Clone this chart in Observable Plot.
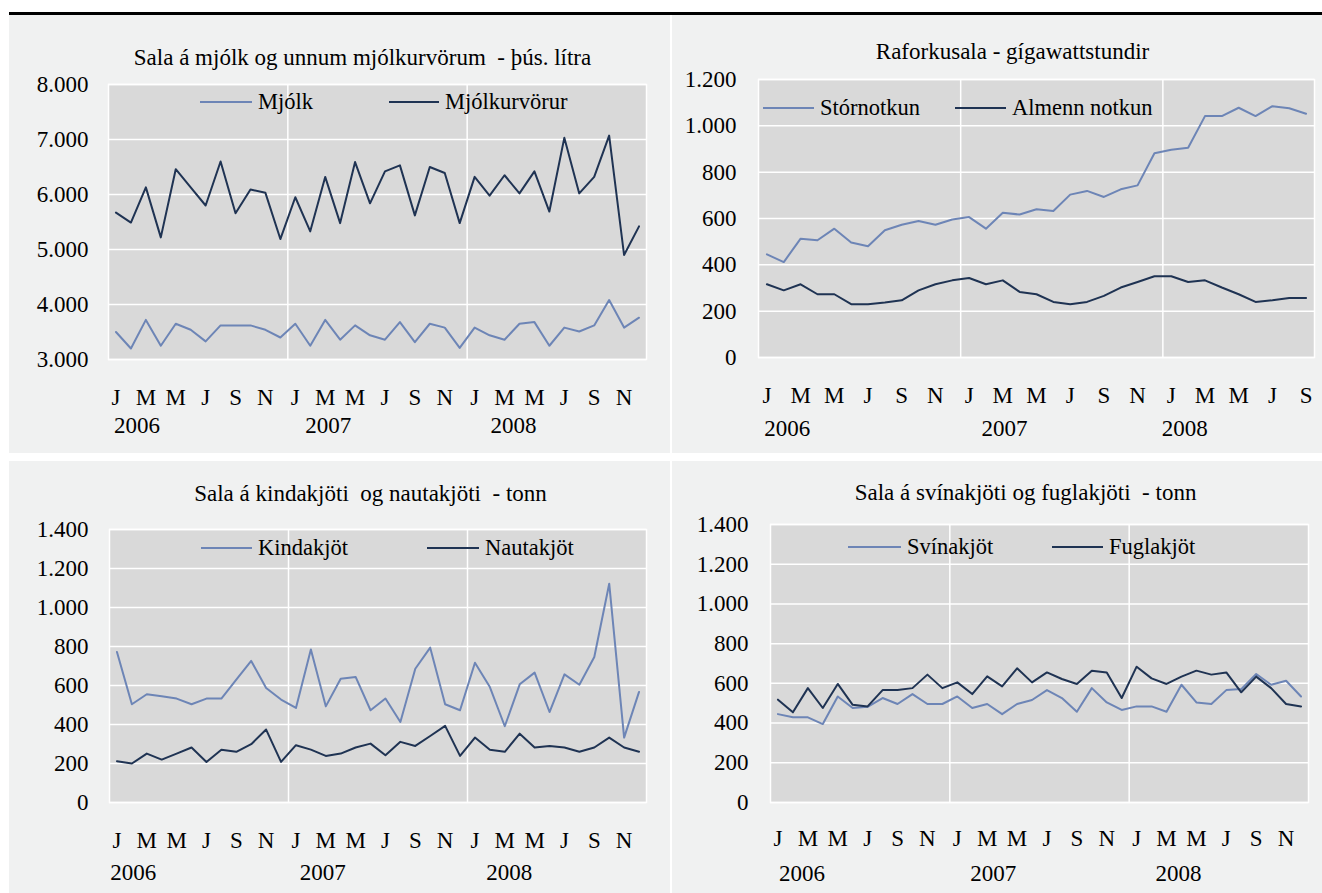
<!DOCTYPE html>
<html>
<head>
<meta charset="utf-8">
<script src="https://cdn.jsdelivr.net/npm/d3@7"></script>
<script src="https://cdn.jsdelivr.net/npm/@observablehq/plot@0.6"></script>
<style>
  html, body { margin: 0; padding: 0; background: #ffffff; }
  #root { position: relative; width: 1322px; height: 893px; overflow: hidden; font-family: "Liberation Serif", "Times New Roman", serif; }
  .bar { position: absolute; background: #000; }
  .panel { position: absolute; background: #f0f1f1; }
  .panel svg { position: absolute; left: 0; top: 0; overflow: visible; }
  .leg { position: absolute; display: flex; align-items: center; font-family: "Liberation Serif", "Times New Roman", serif; font-size: 22.5px; color: #000; white-space: nowrap; line-height: 1; }
  .leg span.sw { display: inline-block; height: 2px; }
</style>
</head>
<body>
<div id="root"></div>
<script>
// ---------- data ----------
const monthLetters = ["J","F","M","A","M","J","J","A","S","O","N","D"];
const years = [2006, 2007, 2008];

const milkTitle = "Sala á mjólk og unnum mjólkurvörum  - þús. lítra";
const milkNames = ["Mjólk", "Mjólkurvörur"];
const milk = [3500,3200,3720,3250,3650,3540,3330,3620,3620,3620,3540,3400,
              3650,3250,3720,3360,3620,3440,3360,3680,3315,3650,3580,3210,
              3580,3440,3360,3650,3680,3250,3580,3510,3620,4080,3580,3760];
const milkProducts = [5670,5490,6130,5220,6460,6130,5800,6600,5660,6090,6030,5190,
                      5950,5330,6320,5480,6590,5840,6420,6530,5620,6500,6390,5480,
                      6320,5980,6350,6020,6420,5690,7030,6020,6320,7070,4900,5420];
const milkTicks = [3000,4000,5000,6000,7000,8000];

const powerTitle = "Raforkusala - gígawattstundir";
const powerNames = ["Stórnotkun", "Almenn notkun"];
const bigUse = [445,412,513,506,556,496,480,549,573,589,573,596,
                606,556,625,617,640,632,703,719,693,726,743,882,
                897,905,1042,1042,1078,1042,1085,1076,1052];
const generalUse = [316,290,316,273,273,230,230,237,247,290,316,333,
                    343,316,333,283,273,240,230,240,266,302,326,351,
                    351,326,333,302,273,240,247,257,257];
const powerTicks = [0,200,400,600,800,1000,1200];

const lambBeefTitle = "Sala á kindakjöti  og nautakjöti  - tonn";
const lambBeefNames = ["Kindakjöt", "Nautakjöt"];
const lamb = [772,504,555,545,533,504,533,533,630,726,587,528,
              485,785,493,635,644,473,533,413,686,794,504,473,
              717,592,391,606,666,464,657,604,746,1122,333,567];
const beef = [212,200,251,220,251,282,208,271,260,299,374,208,
              294,271,239,251,282,302,242,311,290,341,393,239,
              333,271,260,353,282,290,282,260,282,333,282,260];
const meatTicks = [0,200,400,600,800,1000,1200,1400];

const porkPoultryTitle = "Sala á svínakjöti og fuglakjöti  - tonn";
const porkPoultryNames = ["Svínakjöt", "Fuglakjöt"];
const pork = [445,429,429,395,534,476,482,526,496,546,496,496,
              534,476,496,445,496,516,566,526,457,576,504,466,
              484,484,457,593,504,496,566,571,647,593,613,534];
const poultry = [518,454,576,476,597,492,484,566,566,576,644,576,
                 605,546,635,585,676,605,655,622,597,664,655,526,
                 684,625,597,634,664,644,655,555,634,576,496,484];

// ---------- styles ----------
const LIGHT = "#6d85b6";
const DARK = "#1f3353";
const FONT = "Liberation Serif, Times New Roman, serif";
const FS = 23;
const fmt = d3.formatLocale({decimal: ",", thousands: ".", grouping: [3], currency: ["", ""]}).format(",d");

const root = document.getElementById("root");
const bar = document.createElement("div");
bar.className = "bar";
Object.assign(bar.style, {left: "9px", top: "12px", width: "1313px", height: "3px"});
root.appendChild(bar);

function makePanel(cfg) {
  const div = document.createElement("div");
  div.className = "panel";
  Object.assign(div.style, {left: cfg.left + "px", top: cfg.top + "px", width: cfg.width + "px", height: cfg.height + "px"});
  root.appendChild(div);

  const n = cfg.series[0].values.length;
  const rows = [];
  cfg.series.forEach((s, k) => s.values.forEach((v, i) => rows.push({i, v, k})));
  const monthIdx = d3.range(0, n, 2);
  const yearBounds = d3.range(12, n, 12).map(m => m - 0.5);
  const m = cfg.margin;
  const plotL = m.left, plotR = cfg.width - m.right, plotT = m.top;
  const frameCx = (plotL + plotR) / 2;
  const txt = {fontSize: FS, fontFamily: FONT, fill: "#000"};

  const chart = Plot.plot({
    width: cfg.width,
    height: cfg.height,
    marginLeft: m.left, marginRight: m.right, marginTop: m.top, marginBottom: m.bottom,
    style: {background: "transparent", fontFamily: FONT, fontSize: FS + "px", color: "#000", overflow: "visible"},
    x: {type: "linear", domain: [-0.5, n - 0.5], axis: null},
    y: {domain: cfg.yDomain, axis: null},
    marks: [
      Plot.frame({fill: "#d9d9d9", stroke: "#ffffff", strokeWidth: 1.5}),
      Plot.ruleY(cfg.ticks, {stroke: "#ffffff", strokeWidth: 1.5}),
      Plot.ruleX(yearBounds, {stroke: "#ffffff", strokeWidth: 1.5}),
      Plot.line(rows, {x: "i", y: "v", z: "k", stroke: d => cfg.series[d.k].color, strokeWidth: 2}),
      Plot.text(cfg.ticks, {y: d => d, frameAnchor: "left", dx: -cfg.yLabelGap, textAnchor: "end", text: d => fmt(d), ...txt}),
      Plot.text(monthIdx, {x: d => d, frameAnchor: "bottom", dy: cfg.monthDy, lineAnchor: "middle", text: d => monthLetters[d % 12], ...txt}),
      Plot.text(years, {x: (d, j) => j * 12 + cfg.yearOffsets[j], frameAnchor: "bottom", dy: cfg.yearDy, lineAnchor: "middle", text: d => String(d), ...txt}),
      Plot.text([cfg.title], {frameAnchor: "top", dx: cfg.titleX - cfg.left - frameCx, dy: cfg.titleY - cfg.top - plotT, lineAnchor: "middle", text: d => d, ...txt})
    ]
  });
  div.appendChild(chart);

  // legend (inside plot area)
  cfg.series.forEach((s, k) => {
    const L = cfg.legend[k];
    const el = document.createElement("div");
    el.className = "leg";
    el.style.left = (L.x - cfg.left) + "px";
    el.style.top = (cfg.legendY - cfg.top - 11) + "px";
    el.style.height = "22px";
    const sw = document.createElement("span");
    sw.className = "sw";
    sw.style.width = L.w + "px";
    sw.style.background = s.color;
    sw.style.marginRight = "6px";
    const tx = document.createElement("span");
    tx.textContent = s.name;
    el.appendChild(sw);
    el.appendChild(tx);
    div.appendChild(el);
  });
}

makePanel({
  left: 9, top: 15, width: 661, height: 438,
  margin: {left: 99, right: 24, top: 69, bottom: 94},
  yDomain: [3000, 8000], ticks: milkTicks,
  series: [{name: milkNames[0], values: milk, color: LIGHT}, {name: milkNames[1], values: milkProducts, color: DARK}],
  title: milkTitle, titleX: 362, titleY: 57,
  yLabelGap: 20, monthDy: 38, yearDy: 66, yearOffsets: [1.4, 2.2, 2.6],
  legendY: 102, legend: [{x: 200, w: 52}, {x: 389, w: 50}]
});

makePanel({
  left: 672, top: 15, width: 650, height: 438,
  margin: {left: 86, right: 8, top: 64, bottom: 96},
  yDomain: [0, 1200], ticks: powerTicks,
  series: [{name: powerNames[0], values: bigUse, color: LIGHT}, {name: powerNames[1], values: generalUse, color: DARK}],
  title: powerTitle, titleX: 1012, titleY: 51,
  yLabelGap: 22, monthDy: 38, yearDy: 71, yearOffsets: [1.2, 2.1, 0.8],
  legendY: 108, legend: [{x: 763, w: 51}, {x: 955, w: 51}]
});

makePanel({
  left: 9, top: 461, width: 661, height: 432,
  margin: {left: 100, right: 24, top: 68, bottom: 91},
  yDomain: [0, 1400], ticks: meatTicks,
  series: [{name: lambBeefNames[0], values: lamb, color: LIGHT}, {name: lambBeefNames[1], values: beef, color: DARK}],
  title: lambBeefTitle, titleX: 370, titleY: 493,
  yLabelGap: 21, monthDy: 38, yearDy: 70, yearOffsets: [1.1, 1.8, 2.3],
  legendY: 548, legend: [{x: 201, w: 51}, {x: 427, w: 52}]
});

makePanel({
  left: 672, top: 461, width: 650, height: 432,
  margin: {left: 98, right: 14, top: 63, bottom: 91},
  yDomain: [0, 1400], ticks: meatTicks,
  series: [{name: porkPoultryNames[0], values: pork, color: LIGHT}, {name: porkPoultryNames[1], values: poultry, color: DARK}],
  title: porkPoultryTitle, titleX: 1025, titleY: 492,
  yLabelGap: 22, monthDy: 36, yearDy: 71, yearOffsets: [1.6, 2.4, 2.8],
  legendY: 547, legend: [{x: 848, w: 53}, {x: 1052, w: 51}]
});
</script>
</body>
</html>
